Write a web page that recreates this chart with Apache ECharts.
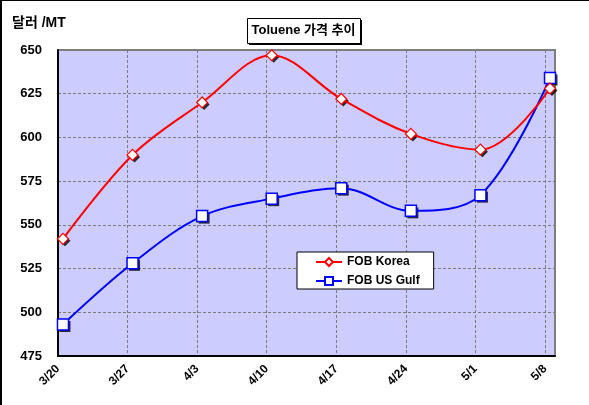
<!DOCTYPE html>
<html>
<head>
<meta charset="utf-8">
<script src="https://cdn.jsdelivr.net/npm/echarts@6/dist/echarts.min.js"></script>
<style>
html,body{margin:0;padding:0;background:#fff;}
#c{width:589px;height:405px;}
</style>
</head>
<body>
<div id="c"></div>
<script>
const categories = ['3/20','3/27','4/3','4/10','4/17','4/24','5/1','5/8'];
const koreaValues = [542, 590, 620, 647, 622, 602, 593, 628];
const gulfValues  = [493, 528, 555, 565, 571, 558, 567, 634];
const seriesNames = ['FOB Korea', 'FOB US Gulf'];
const yTicks = {min: 475, max: 650, step: 25};
const daysPerWeek = 7;

const FONT = "'Liberation Sans', Arial, 'Noto Sans CJK KR', sans-serif";
const pos = i => i * daysPerWeek + 0.5;
const koreaData = koreaValues.map((v, i) => [pos(i), v]);
const gulfData = gulfValues.map((v, i) => [pos(i), v]);

const chart = echarts.init(document.getElementById('c'), null, {renderer: 'canvas'});

chart.setOption({
  animation: false,
  backgroundColor: '#fff',
  textStyle: {fontFamily: FONT},
  grid: {left: 58, right: 34, top: 50, bottom: 49, show: true,
         backgroundColor: '#CCCCFF', borderColor: '#808080', borderWidth: 2},
  xAxis: {
    type: 'value', min: 0, max: categories.length * daysPerWeek - 6, interval: daysPerWeek,
    axisLine: {show: true, onZero: false, lineStyle: {color: '#000', width: 2}},
    axisTick: {show: false},
    splitLine: {show: true, lineStyle: {color: '#7a7a7a', type: [3, 2], width: 1}},
    axisLabel: {
      rotate: 45, margin: 11, color: '#000', fontWeight: 'bold', fontSize: 12, fontFamily: FONT,
      showMaxLabel: false,
      formatter: v => (v % daysPerWeek === 0 && v / daysPerWeek < categories.length) ? categories[v / daysPerWeek] : ''
    }
  },
  yAxis: {
    type: 'value', min: yTicks.min, max: yTicks.max, interval: yTicks.step,
    axisLine: {show: true, lineStyle: {color: '#000', width: 2}},
    axisTick: {show: false},
    splitLine: {show: true, lineStyle: {color: '#7a7a7a', type: [3, 2], width: 1}},
    axisLabel: {margin: 16, color: '#000', fontWeight: 'bold', fontSize: 13, fontFamily: FONT}
  },
  legend: {
    left: 297, top: 252, orient: 'vertical',
    backgroundColor: '#fff', borderColor: '#000', borderWidth: 1,
    padding: [4, 14, 2, 18], itemGap: 7, itemWidth: 26, itemHeight: 10,
    textStyle: {fontFamily: FONT, fontWeight: 'bold', fontSize: 12, color: '#000'},
    data: seriesNames
  },
  series: [
    {
      name: 'shadowK', type: 'scatter', data: koreaData, symbol: 'diamond', symbolSize: 11,
      symbolOffset: [2, 2], itemStyle: {color: '#000'}, z: 1, silent: true
    },
    {
      name: 'shadowG', type: 'scatter', data: gulfData, symbol: 'rect', symbolSize: 11,
      symbolOffset: [2, 2], itemStyle: {color: '#000'}, z: 1, silent: true
    },
    {
      name: seriesNames[0], type: 'line', smooth: 0.35, data: koreaData,
      symbol: 'diamond', symbolSize: 11,
      lineStyle: {color: '#FF0000', width: 2},
      itemStyle: {color: '#fff', borderColor: '#FF0000', borderWidth: 1.2},
      z: 3
    },
    {
      name: seriesNames[1], type: 'line', smooth: 0.35, data: gulfData,
      symbol: 'rect', symbolSize: 11,
      lineStyle: {color: '#0000FF', width: 2},
      itemStyle: {color: '#fff', borderColor: '#0000FF', borderWidth: 1.5},
      z: 2
    }
  ],
  graphic: [
    {type: 'rect', left: 0, top: 0, shape: {width: 2, height: 405}, style: {fill: '#000'}, silent: true},
    {type: 'rect', left: 0, top: 0, shape: {width: 589, height: 1}, style: {fill: '#000'}, silent: true},
    {type: 'text', left: 12, top: 16, style: {text: '달러 /MT', font: "bold 14px " + FONT, fill: '#000'}},
    {type: 'rect', left: 249, top: 20, shape: {width: 113, height: 25}, style: {fill: '#000'}, z: 10},
    {type: 'rect', left: 247, top: 18, shape: {width: 113, height: 25}, style: {fill: '#fff', stroke: '#000', lineWidth: 1}, z: 11},
    {type: 'text', x: 303.5, y: 30.5, style: {text: 'Toluene 가격 추이', font: "bold 13px " + FONT, fill: '#000', align: 'center', verticalAlign: 'middle'}, z: 12}
  ]
});
</script>
</body>
</html>
